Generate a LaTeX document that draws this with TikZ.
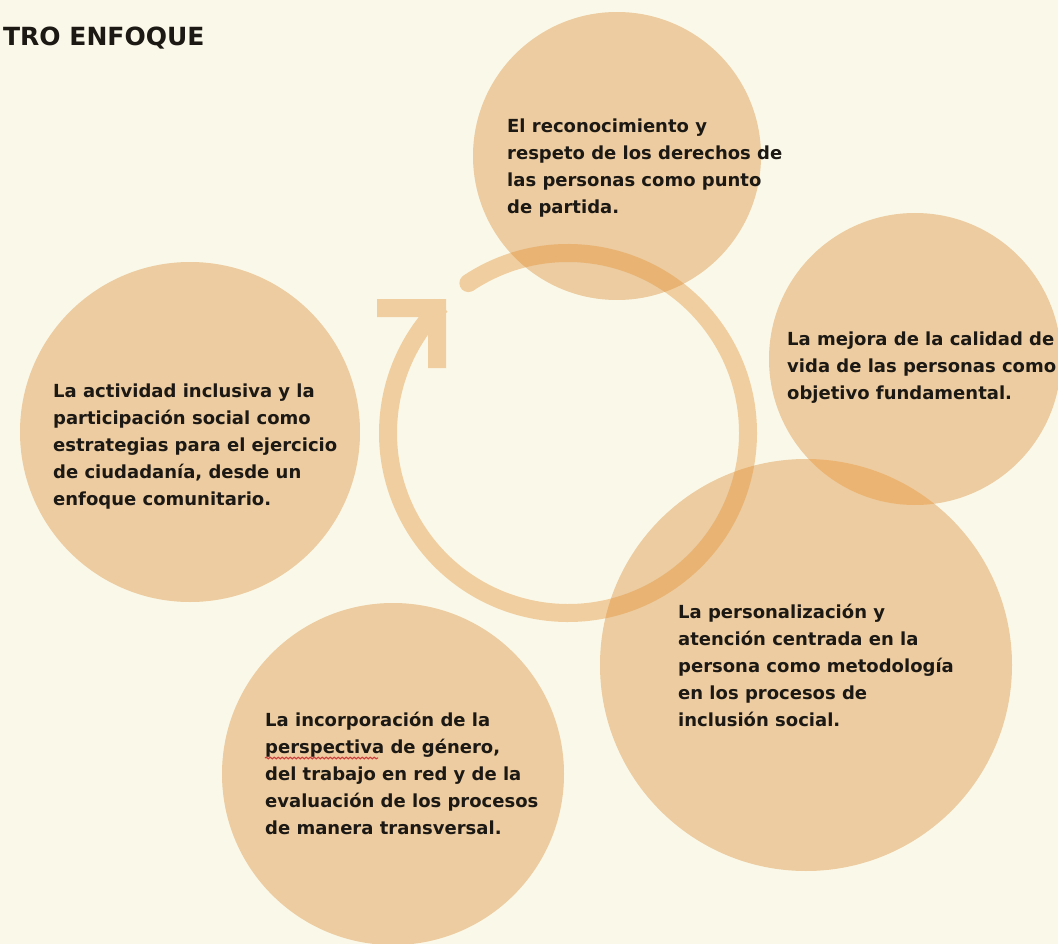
\documentclass[tikz,border=0pt]{standalone}
\usepackage{fontspec}
\setmainfont{DejaVu Sans}
\usetikzlibrary{decorations.pathmorphing}
\definecolor{bgc}{RGB}{250,248,232}
\definecolor{bubc}{RGB}{236,204,160}
\definecolor{lensc}{RGB}{236,180,114}
\definecolor{ringc}{RGB}{226,139,42}
\definecolor{txtc}{RGB}{28,24,20}
\definecolor{spellc}{RGB}{205,60,60}
\tikzset{
  bubble/.style={circle, fill=bubc, draw=none, inner sep=0pt},
  bubtext/.style={anchor=north west, inner sep=0pt, align=left, text=txtc,
    font=\bfseries\fontsize{18}{27}\selectfont},
  titletext/.style={anchor=north west, inner sep=0pt, text=txtc,
    font=\bfseries\fontsize{25}{30}\selectfont},
  ringline/.style={draw=ringc, line width=18pt},
  spellline/.style={draw=spellc, line width=1.1pt,
    decorate, decoration={snake, amplitude=0.8pt, segment length=4pt}},
}
\begin{document}
\begin{tikzpicture}[x=1pt,y=1pt]
\fill[bgc] (0,0) rectangle (1058,-944);
\useasboundingbox (0,0) rectangle (1058,-944);
\clip (0,0) rectangle (1058,-944);

% bubbles
\node[bubble, minimum size=288pt] (c1) at (617,-156) {};
\node[bubble, minimum size=292pt] (c2) at (915,-359) {};
\node[bubble, minimum size=340pt] (c3) at (190,-432) {};
\node[bubble, minimum size=412pt] (c4) at (806,-665) {};
\node[bubble, minimum size=342pt] (c5) at (393,-774) {};

% overlap lens of c2 and c4
\begin{scope}
  \clip (c2.center) circle[radius=146];
  \fill[lensc] (c4.center) circle[radius=206];
\end{scope}

% cycle ring with arrow
\coordinate (rc) at (568,-433);
\coordinate (headL) at (377,-308);
\coordinate (headC) at (437,-308);
\coordinate (headD) at (437,-368);
\begin{scope}[transparency group, opacity=0.38]
  \draw[ringline, line cap=butt] (rc) ++(123.6:180) coordinate (ringstart)
     arc[start angle=123.6, end angle=-225.2, radius=180] coordinate (ringtip);
  \fill[ringc] (ringstart) circle[radius=9];
  \draw[ringline, line cap=butt, line join=miter] (headL) -- (headC) -- (headD);
\end{scope}

% title
\node[titletext] (title) at (3,-26.5) {TRO ENFOQUE};

% texts
\node[bubtext] (t1) at (507,-118.5) {El reconocimiento y\\respeto de los derechos de\\las personas como punto\\de partida.};
\node[bubtext] (t2) at (787,-331.5) {La mejora de la calidad de\\vida de las personas como\\objetivo fundamental.};
\node[bubtext] (t3) at (53,-383.5) {La actividad inclusiva y la\\participación social como\\estrategias para el ejercicio\\de ciudadanía, desde un\\enfoque comunitario.};
\node[bubtext] (t4) at (678,-603.5) {La personalización y\\atención centrada en la\\persona como metodología\\en los procesos de\\inclusión social.};
\node[bubtext] (t5) at (265,-711.5) {La incorporación de la\\perspectiva de género,\\del trabajo en red y de la\\evaluación de los procesos\\de manera transversal.};

% spell-check underline
\coordinate (sp1) at (265,-758);
\coordinate (sp2) at (378,-758);
\draw[spellline] (sp1) -- (sp2);
\end{tikzpicture}
\end{document}
